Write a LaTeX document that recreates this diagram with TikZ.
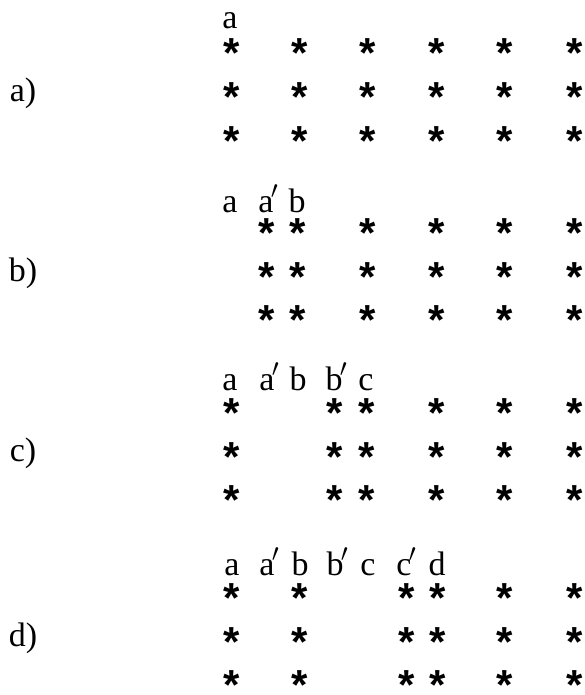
\documentclass[tikz,border=0pt]{standalone}
\usepackage{fontspec}
\setmainfont{Liberation Serif}
\newfontfamily\starfont{Liberation Sans}
\tikzset{
  starnode/.style={inner sep=0pt, anchor=center, font=\fontsize{42}{42}\selectfont\starfont\bfseries},
  lettr/.style={inner sep=0pt, anchor=base, font=\fontsize{34}{34}\selectfont},
  rowlab/.style={inner sep=0pt, anchor=base, font=\fontsize{34}{34}\selectfont}
}
\newcommand{\pr}{\rlap{\kern-0.08em\raisebox{0.12em}{$'$}}}
\newcommand{\sg}{\raisebox{-0.46em}[0.17em][0.17em]{*}}
\begin{document}
\begin{tikzpicture}[x=1pt,y=-1pt]
\useasboundingbox (0,0) rectangle (584,695);
% row labels
\node[rowlab] (ra) at (23,102) {a)};
\node[rowlab] (rb) at (23,281) {b)};
\node[rowlab] (rc) at (23,461) {c)};
\node[rowlab] (rd) at (23,646) {d)};
% panel a
\node[lettr] (la1) at (230,29) {a};
\foreach \x [count=\i] in {232,300,368,437,505,575}
  \foreach \y [count=\j] in {48,92,136}
    \node[starnode] (sa\i-\j) at (\x,\y) {\sg};
% panel b
\node[lettr] (lb1) at (230,212) {a};
\node[lettr] (lb2) at (266,212) {a\pr};
\node[lettr] (lb3) at (297,212) {b};
\foreach \x [count=\i] in {267,298,368,437,505,575}
  \foreach \y [count=\j] in {228,272,315}
    \node[starnode] (sb\i-\j) at (\x,\y) {\sg};
% panel c
\node[lettr] (lc1) at (230,390) {a};
\node[lettr] (lc2) at (267,390) {a\pr};
\node[lettr] (lc3) at (298,390) {b};
\node[lettr] (lc4) at (334,390) {b\pr};
\node[lettr] (lc5) at (366,390) {c};
\foreach \x [count=\i] in {232,335,367,437,505,575}
  \foreach \y [count=\j] in {408,452,495}
    \node[starnode] (sc\i-\j) at (\x,\y) {\sg};
% panel d
\node[lettr] (ld1) at (232,575) {a};
\node[lettr] (ld2) at (267,575) {a\pr};
\node[lettr] (ld3) at (300,575) {b};
\node[lettr] (ld4) at (335,575) {b\pr};
\node[lettr] (ld5) at (368,575) {c};
\node[lettr] (ld6) at (404,575) {c\pr};
\node[lettr] (ld7) at (437,575) {d};
\foreach \x [count=\i] in {232,300,407,438,505,575}
  \foreach \y [count=\j] in {593,637,680}
    \node[starnode] (sd\i-\j) at (\x,\y) {\sg};
\end{tikzpicture}
\end{document}
